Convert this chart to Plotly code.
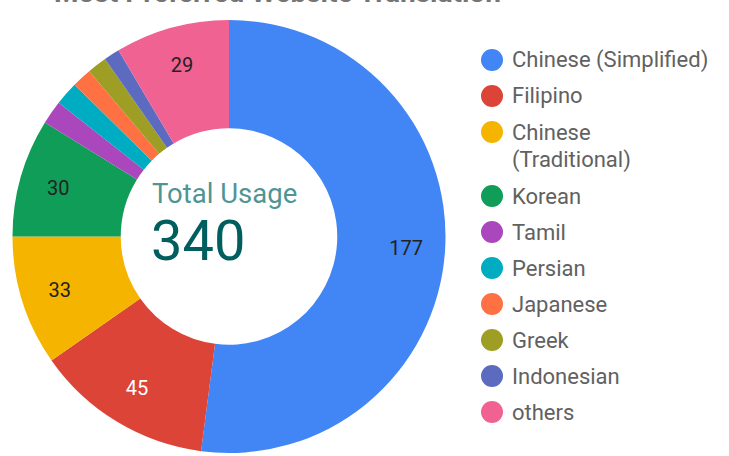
import plotly.graph_objects as go

title_text = "Most Preferred Website Translation"
languages = ["Chinese (Simplified)", "Filipino", "Chinese (Traditional)", "Korean", "Tamil",
             "Persian", "Japanese", "Greek", "Indonesian", "others"]
legend_lines = [["Chinese (Simplified)"], ["Filipino"], ["Chinese", "(Traditional)"], ["Korean"], ["Tamil"],
                ["Persian"], ["Japanese"], ["Greek"], ["Indonesian"], ["others"]]
usage = [177, 45, 33, 30, 6, 6, 5, 5, 4, 29]
colors = ["#4285F4", "#DB4437", "#F4B400", "#0F9D58", "#AB47BC",
          "#00ACC1", "#FF7043", "#9E9D24", "#5C6BC0", "#F06292"]
label_min = 20
total = sum(usage)

W, H = 729, 456
ML, MR, MT, MB = 12, 0, 20, 3
PW, PH = W - ML - MR, H - MT - MB


def px_x(p):
    return (p - ML) / PW


def px_y(p):
    return 1 - (p - MT) / PH


slice_text = [str(v) if v >= label_min else "" for v in usage]
text_colors = ["#222222", "#ffffff", "#222222", "#222222"] + ["#222222"] * 6
dom = dict(x=[0, 434 / PW], y=[0, 1])

fig = go.Figure()
fig.add_trace(go.Pie(
    labels=languages, values=usage, textinfo="none",
    marker=dict(colors=colors, line=dict(width=0)),
    hole=0.5, sort=False, direction="clockwise", rotation=0,
    domain=dom, showlegend=False, hoverinfo="label+value",
))
# transparent ring carrying the slice labels further out, as in the reference
fig.add_trace(go.Pie(
    labels=languages, values=usage, text=slice_text, textinfo="text",
    textposition="inside", insidetextorientation="horizontal",
    textfont=dict(family="Roboto", size=20, color=text_colors),
    marker=dict(colors=["rgba(0,0,0,0)"] * len(usage), line=dict(width=0)),
    hole=0.64, sort=False, direction="clockwise", rotation=0,
    domain=dom, showlegend=False, hoverinfo="skip",
))

shapes = []
annotations = []
yrow = 60
for lines, col in zip(legend_lines, colors):
    shapes.append(dict(type="circle", xref="paper", yref="paper",
                       xsizemode="pixel", ysizemode="pixel",
                       xanchor=px_x(492), yanchor=px_y(yrow),
                       x0=-11, x1=11, y0=-11, y1=11,
                       fillcolor=col, line=dict(width=0)))
    for k, ln in enumerate(lines):
        annotations.append(dict(text=ln, xref="paper", yref="paper",
                                x=px_x(510), y=px_y(yrow + 28 * k),
                                xanchor="left", yanchor="middle", showarrow=False,
                                font=dict(family="Roboto", size=22, color="#616161")))
    yrow += 36 + 28 * (len(lines) - 1)

annotations.append(dict(text="Total Usage", xref="paper", yref="paper",
                        x=px_x(150), y=px_y(193), xanchor="left", yanchor="middle",
                        showarrow=False, font=dict(family="Roboto", size=27.5, color="#4f9594")))
annotations.append(dict(text=str(total), xref="paper", yref="paper",
                        x=px_x(149), y=px_y(241), xanchor="left", yanchor="middle",
                        showarrow=False, font=dict(family="Roboto", size=56, color="#005f5e")))
annotations.append(dict(text="<b>" + title_text + "</b>", xref="paper", yref="paper",
                        x=px_x(52), y=1, xanchor="left", yanchor="bottom", yshift=9,
                        showarrow=False, font=dict(family="Roboto", size=28, color="#757575")))

fig.update_layout(
    width=W, height=H, margin=dict(l=ML, r=MR, t=MT, b=MB),
    paper_bgcolor="white", plot_bgcolor="white",
    shapes=shapes, annotations=annotations, showlegend=False,
)
fig.write_html("out.html")
